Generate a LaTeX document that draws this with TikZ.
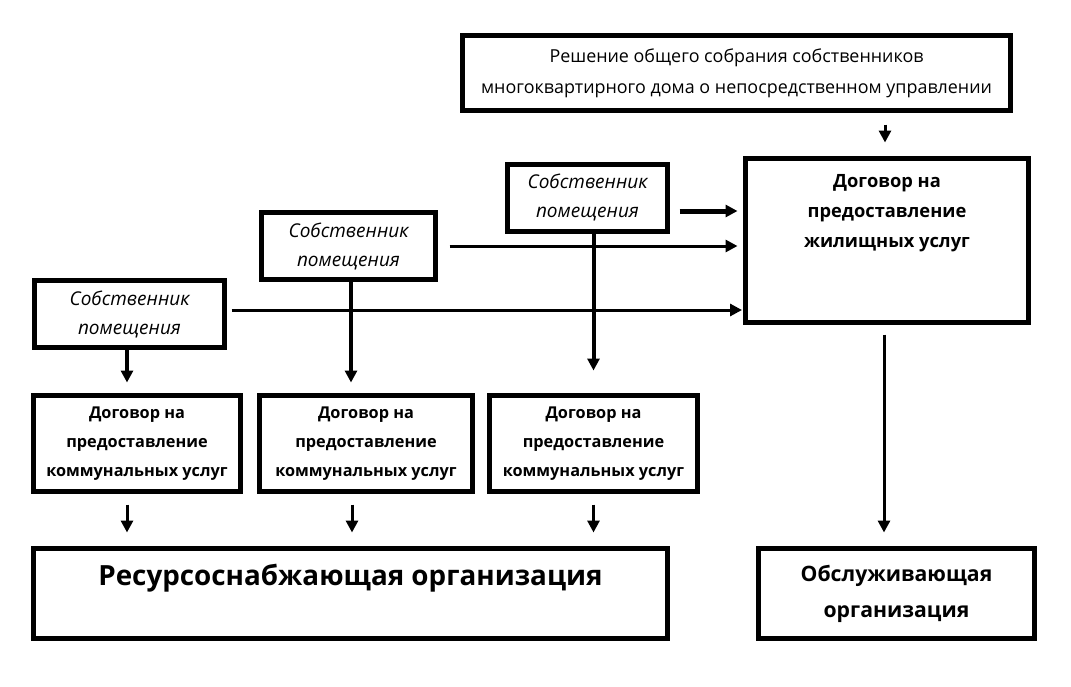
\documentclass[tikz,border=0pt]{standalone}
\usepackage{fontspec}
\setmainfont{Open Sans}
\usetikzlibrary{arrows.meta, positioning}

\tikzset{
  box/.style={draw, line width=5pt, align=center, inner sep=0pt},
  owner/.style={box, minimum height=67pt, font={\itshape\fontsize{19}{29}\selectfont}},
  contract/.style={box, minimum height=96pt, font={\bfseries\fontsize{16.3}{29}\selectfont}},
  link/.style={line width=3pt, -{Triangle[length=12pt,width=12pt]}},
}

\begin{document}
\begin{tikzpicture}[x=1pt, y=-1pt]
  \useasboundingbox (0,0) rectangle (1071,686);

  % Nodes
  \node[box, minimum width=548pt, minimum height=75pt, font={\fontsize{17.9}{31}\selectfont}] (decision) at (736.5,73)
    {Решение общего собрания собственников\\многоквартирного дома о непосредственном управлении};
  \node[box, minimum width=283pt, minimum height=164pt,
    label={[anchor=north, yshift=-15pt, align=center, font={\bfseries\fontsize{18.3}{30}\selectfont}]north:{Договор на\\предоставление\\жилищных услуг}}] (housing) at (887,240.5) {};

  \node[owner, minimum width=160pt] (owner3) at (587.5,197.5) {Собственник\\помещения};
  \node[owner, minimum width=174pt] (owner2) at (348.5,246) {Собственник\\помещения};
  \node[owner, minimum width=190pt] (owner1) at (129.5,314) {Собственник\\помещения};

  \node[contract, minimum width=207pt] (c1) at (137,443.5) {Договор на\\предоставление\\коммунальных услуг};
  \node[contract, minimum width=213pt] (c2) at (366,443.5) {Договор на\\предоставление\\коммунальных услуг};
  \node[contract, minimum width=208pt] (c3) at (593.5,443.5) {Договор на\\предоставление\\коммунальных услуг};

  \node[box, minimum width=634pt, minimum height=90pt,
    label={[yshift=15pt, font={\bfseries\fontsize{27.8}{30}\selectfont}]center:Ресурсоснабжающая организация}] (supplier) at (350.5,593.5) {};
  \node[box, minimum width=276pt, minimum height=90pt, font={\bfseries\fontsize{21.2}{36}\selectfont}] (service) at (896.5,593.5)
    {Обслуживающая\\организация};

  % Edges
  \draw[link, shorten <=11.5pt, shorten >=13.5pt] ([xshift=-2pt]decision.south -| housing.north) -- ([xshift=-2pt]housing.north);
  \draw[link, line width=5pt, shorten <=9.5pt, shorten >=5.5pt] ([yshift=-13.5pt]owner3.east) -- ([yshift=-13.5pt]owner3.east -| housing.west);
  \draw[link, shorten <=11.5pt, shorten >=5.5pt] (owner2.east) -- (owner2.east -| housing.west);
  \draw[link, shorten <=4.5pt, shorten >=1pt] ([yshift=4pt]owner1.east) -- ([yshift=4pt]owner1.east -| housing.west);

  \draw[link, line width=4pt, shorten >=22.5pt] (owner3.south -| c3.north) -- (c3.north);
  \draw[link, line width=4pt, shorten >=10.5pt] ([xshift=2.5pt]owner2.south) -- ([xshift=2.5pt]owner2.south |- c2.north);
  \draw[link, line width=4pt, shorten >=10.5pt] ([xshift=-2.5pt]owner1.south) -- ([xshift=-2.5pt]owner1.south |- c1.north);

  \draw[link, shorten <=10.5pt, shorten >=13.5pt] ([xshift=-10pt]c1.south) -- ([xshift=-10pt]c1.south |- supplier.north);
  \draw[link, shorten <=10.5pt, shorten >=13.5pt] ([xshift=-14pt]c2.south) -- ([xshift=-14pt]c2.south |- supplier.north);
  \draw[link, shorten <=10.5pt, shorten >=13.5pt] (c3.south) -- (c3.south |- supplier.north);
  \draw[link, shorten <=9.5pt, shorten >=13.5pt] ([xshift=-3pt]housing.south) -- ([xshift=-3pt]housing.south |- service.north);
\end{tikzpicture}
\end{document}
